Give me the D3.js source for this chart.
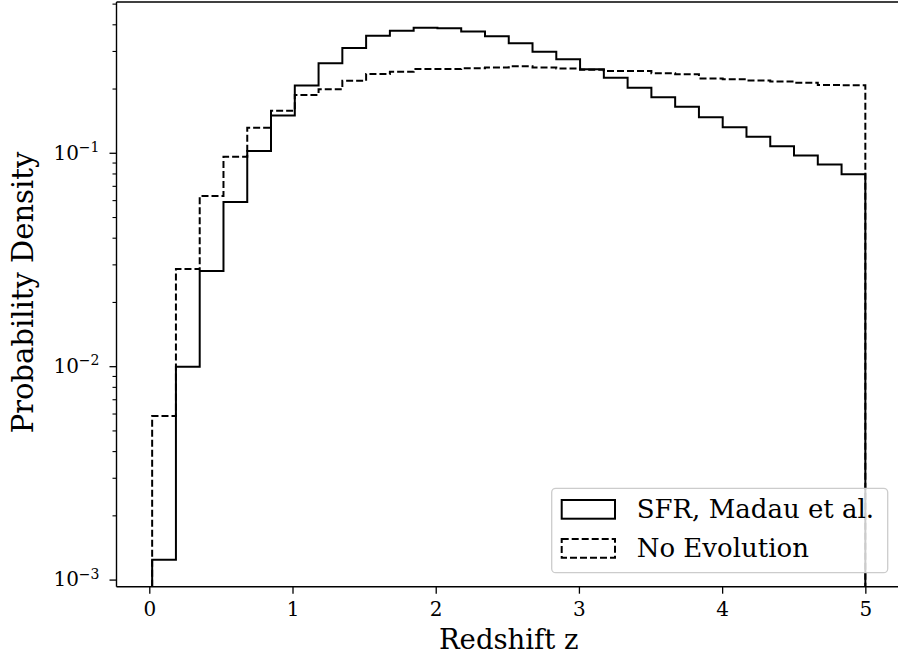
<!DOCTYPE html>
<html>
<head>
<meta charset="utf-8">
<script src="https://cdn.jsdelivr.net/npm/d3@7"></script>
<style>
html,body{margin:0;padding:0;background:#fff;overflow:hidden;}
svg{display:block;}
text{font-family:"DejaVu Serif",serif;fill:#000;}
</style>
</head>
<body>
<svg id="chart" width="898" height="662"></svg>
<script>
// ---- data ----
const binEdges = [0.02,0.186,0.352,0.518,0.684,0.85,1.016,1.182,1.348,1.514,1.68,1.846,2.012,2.178,2.344,2.51,2.676,2.842,3.008,3.174,3.34,3.506,3.672,3.838,4.004,4.17,4.336,4.502,4.668,4.834,5.0];
const sfrMadau = [0.00124,0.00995,0.0279,0.0588,0.102,0.1496,0.2067,0.2626,0.3098,0.3538,0.3734,0.3857,0.3832,0.3702,0.3519,0.3260,0.2976,0.2742,0.2465,0.2248,0.2018,0.1819,0.1642,0.1467,0.1317,0.1190,0.1074,0.0971,0.0881,0.0794];
const noEvolution = [0.00584,0.02853,0.0627,0.0959,0.1311,0.1575,0.1866,0.1984,0.2177,0.2340,0.2399,0.2470,0.2470,0.2489,0.2510,0.2543,0.2510,0.2483,0.2449,0.2417,0.2417,0.2360,0.2332,0.2229,0.2210,0.2181,0.2158,0.2130,0.2077,0.2071];
const xTicks = [0,1,2,3,4,5];
const yMajorTicks = [1e-3,1e-2,1e-1];
const yMajorExp = ["−3","−2","−1"];
const yMinorTicks = [2e-3,3e-3,4e-3,5e-3,6e-3,7e-3,8e-3,9e-3,2e-2,3e-2,4e-2,5e-2,6e-2,7e-2,8e-2,9e-2,2e-1,3e-1,4e-1,5e-1];
const seriesNames = ["SFR, Madau et al.","No Evolution"];
const xLabel = "Redshift z";
const yLabel = "Probability Density";

// ---- layout ----
const L = 116.5, R = 901, T = 2, B = 586.7;
const svg = d3.select("#chart");
const x = d3.scaleLinear().domain([-0.229, 5.249]).range([L, R]);
const y = d3.scaleLog().domain([0.0009261, 0.5088]).range([B, T]);

svg.append("defs").append("clipPath").attr("id","clip")
  .append("rect").attr("x",L).attr("y",T).attr("width",R-L).attr("height",B-T);

function stepPoints(vals){
  const yb = y.domain()[0];
  const pts = [[binEdges[0], yb]];
  vals.forEach((v,i)=>{ pts.push([binEdges[i], v]); pts.push([binEdges[i+1], v]); });
  pts.push([binEdges[binEdges.length-1], yb]);
  return pts;
}
const line = d3.line().x(d=>x(d[0])).y(d=>y(d[1]));
const g = svg.append("g").attr("clip-path","url(#clip)");
g.append("path").attr("d", line(stepPoints(noEvolution)))
  .attr("fill","none").attr("stroke","#000").attr("stroke-width",2)
  .attr("stroke-dasharray","7,3");
g.append("path").attr("d", line(stepPoints(sfrMadau)))
  .attr("fill","none").attr("stroke","#000").attr("stroke-width",2);

// ---- axes ----
const xAxis = d3.axisBottom(x).tickValues(xTicks).tickSize(7).tickPadding(8).tickFormat(d3.format("d"));
const gx = svg.append("g").attr("transform",`translate(0,${B})`).call(xAxis);
gx.select(".domain").remove();
gx.selectAll(".tick line").attr("stroke","#000").attr("stroke-width",1.3);
gx.selectAll(".tick text").attr("font-size",20).attr("font-family","DejaVu Serif").attr("fill","#000");

const yAxis = d3.axisLeft(y).tickValues(yMajorTicks).tickSize(7).tickPadding(10).tickFormat("");
const gy = svg.append("g").attr("transform",`translate(${L},0)`).call(yAxis);
gy.select(".domain").remove();
gy.selectAll(".tick line").attr("stroke","#000").attr("stroke-width",1.3);
gy.selectAll(".tick text").each(function(d,i){
  const t = d3.select(this).attr("font-size",20).attr("font-family","DejaVu Serif").attr("dy","0.32em");
  t.append("tspan").text("10");
  t.append("tspan").attr("font-size",14).attr("dy","-0.55em").text(yMajorExp[i]);
});
const yMinor = d3.axisLeft(y).tickValues(yMinorTicks).tickSize(4).tickFormat("");
const gym = svg.append("g").attr("transform",`translate(${L},0)`).call(yMinor);
gym.select(".domain").remove();
gym.selectAll(".tick line").attr("stroke","#000").attr("stroke-width",1.1);

// spines
svg.append("line").attr("x1",L).attr("x2",L).attr("y1",T).attr("y2",B).attr("stroke","#000").attr("stroke-width",1.4);
svg.append("line").attr("x1",L).attr("x2",R).attr("y1",B).attr("y2",B).attr("stroke","#000").attr("stroke-width",1.4);
svg.append("line").attr("x1",L).attr("x2",R).attr("y1",T).attr("y2",T).attr("stroke","#000").attr("stroke-width",1.4);

// labels
svg.append("text").attr("x",(L+R)/2).attr("y",649).attr("text-anchor","middle")
  .attr("font-size",27.5).text(xLabel);
svg.append("text").attr("transform",`translate(33,292.5) rotate(-90)`).attr("text-anchor","middle")
  .attr("font-size",29).text(yLabel);

// ---- legend ----
const lg = svg.append("g");
lg.append("rect").attr("x",551.7).attr("y",488.3).attr("width",336).attr("height",84.4).attr("rx",4)
  .attr("fill","#fff").attr("fill-opacity",0.8).attr("stroke","#cccccc").attr("stroke-width",1.3);
const legendRows = [{name:seriesNames[0],dash:null,y:500},{name:seriesNames[1],dash:"7,3",y:539}];
legendRows.forEach(r=>{
  lg.append("rect").attr("x",561.7).attr("y",r.y).attr("width",53.3).attr("height",18.7)
    .attr("fill","none").attr("stroke","#000").attr("stroke-width",2)
    .attr("stroke-dasharray",r.dash);
  lg.append("text").attr("x",636.7).attr("y",r.y+18.3).attr("font-size",26).text(r.name);
});
</script>
</body>
</html>
